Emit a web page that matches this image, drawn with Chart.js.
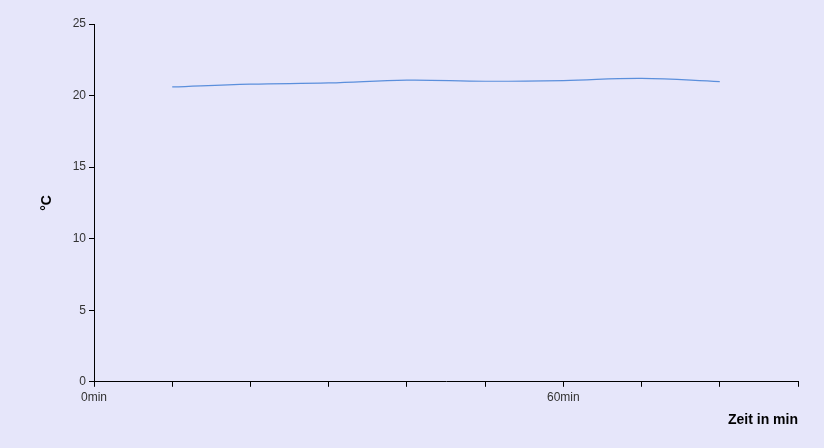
<!DOCTYPE html>
<html>
<head>
<meta charset="utf-8">
<script src="https://cdn.jsdelivr.net/npm/chart.js@4"></script>
<style>
  html, body { margin: 0; padding: 0; background: #e6e6fa; }
  #wrap { width: 824px; height: 448px; }
</style>
</head>
<body>
<div id="wrap"><canvas id="tempChart" width="824" height="448"></canvas></div>
<script>
// minutes and measured temperature
const minutes = [10, 20, 30, 40, 50, 60, 70, 80];
const temps = [20.6, 20.8, 20.88, 21.08, 21.0, 21.05, 21.2, 20.98];
const xLabels = { 0: "0min", 60: "60min" };

const ctx = document.getElementById("tempChart").getContext("2d");

new Chart(ctx, {
  type: "line",
  data: {
    datasets: [
      {
        label: "Temperatur",
        data: minutes.map((m, i) => ({ x: m, y: temps[i] })),
        borderColor: "#5b8fdc",
        borderWidth: 1.2,
        pointRadius: 0,
        fill: false,
        tension: 0.4,
      },
    ],
  },
  options: {
    responsive: false,
    animation: false,
    layout: { padding: { top: 24, right: 26, left: 35, bottom: 15 } },
    plugins: { legend: { display: false }, tooltip: { enabled: false } },
    scales: {
      x: {
        type: "linear",
        min: 0,
        max: 90,
        border: { color: "#000", width: 1 },
        grid: { drawOnChartArea: false, color: "#000", tickLength: 5 },
        ticks: {
          stepSize: 10,
          autoSkip: false,
          maxRotation: 0,
          padding: 4,
          color: "#333",
          font: { family: "Liberation Sans", size: 12 },
          callback: (v) => xLabels[v] || "",
        },
        title: {
          display: true,
          text: "Zeit in min",
          align: "end",
          color: "#000",
          font: { family: "Liberation Sans", size: 14, weight: "bold" },
          padding: { top: 3 },
        },
      },
      y: {
        min: 0,
        max: 25,
        border: { color: "#000", width: 1 },
        grid: { drawOnChartArea: false, color: "#000", tickLength: 5 },
        ticks: {
          stepSize: 5,
          padding: 3,
          color: "#333",
          font: { family: "Liberation Sans", size: 12 },
        },
        title: {
          display: true,
          text: "°C",
          color: "#000",
          font: { family: "Liberation Sans", size: 14, weight: "bold" },
          padding: { bottom: 20 },
        },
        afterFit: (scale) => { scale.width = 59; },
      },
    },
  },
});
</script>
</body>
</html>
